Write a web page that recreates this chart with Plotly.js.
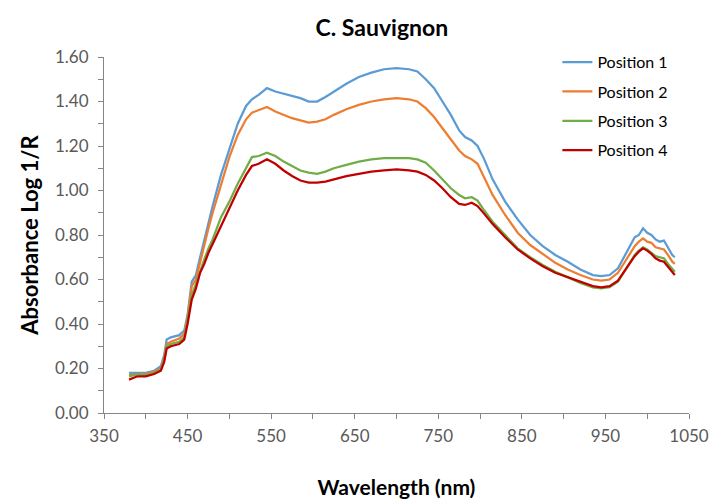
<!DOCTYPE html>
<html>
<head>
<meta charset="utf-8">
<script src="https://cdn.plot.ly/plotly-3.0.1.min.js"></script>
<style>html,body{margin:0;padding:0;background:#fff}#chart{width:711px;height:501px}</style>
</head>
<body>
<div id="chart"></div>
<script>
const wavelength = [380,390,400,410,418,422,425,430,440,446,450,455,460,465,470,475,480,490,500,510,520,527,535,545,555,565,575,585,595,605,615,625,640,655,670,685,700,715,725,735,745,755,765,775,782,790,797,805,815,830,845,860,875,890,905,920,935,945,955,965,975,985,990,995,1000,1005,1010,1015,1020,1025,1030,1033];

const position1 = [0.18,0.18,0.18,0.19,0.21,0.26,0.33,0.34,0.35,0.37,0.44,0.59,0.62,0.70,0.78,0.86,0.93,1.07,1.19,1.30,1.38,1.41,1.43,1.46,1.445,1.435,1.425,1.415,1.40,1.40,1.42,1.445,1.48,1.51,1.53,1.545,1.55,1.545,1.535,1.50,1.46,1.40,1.34,1.27,1.24,1.225,1.20,1.14,1.05,0.95,0.87,0.80,0.75,0.71,0.68,0.645,0.62,0.615,0.62,0.65,0.72,0.79,0.80,0.83,0.81,0.80,0.78,0.77,0.775,0.74,0.71,0.70];

const position2 = [0.17,0.175,0.175,0.185,0.20,0.25,0.31,0.32,0.335,0.355,0.43,0.57,0.60,0.68,0.76,0.83,0.90,1.03,1.15,1.25,1.32,1.35,1.36,1.375,1.355,1.34,1.325,1.315,1.305,1.31,1.32,1.34,1.365,1.385,1.40,1.41,1.415,1.41,1.40,1.37,1.33,1.28,1.23,1.18,1.155,1.14,1.12,1.06,0.98,0.89,0.81,0.755,0.715,0.675,0.645,0.62,0.60,0.595,0.60,0.63,0.69,0.75,0.77,0.785,0.77,0.765,0.745,0.74,0.735,0.71,0.68,0.67];

const position3 = [0.165,0.175,0.17,0.18,0.195,0.24,0.30,0.31,0.32,0.34,0.42,0.53,0.58,0.64,0.69,0.74,0.78,0.88,0.95,1.03,1.10,1.15,1.155,1.17,1.155,1.13,1.11,1.09,1.08,1.075,1.085,1.10,1.115,1.13,1.14,1.145,1.146,1.145,1.14,1.125,1.09,1.05,1.01,0.98,0.965,0.97,0.955,0.91,0.86,0.80,0.74,0.70,0.665,0.635,0.61,0.585,0.565,0.56,0.565,0.59,0.65,0.71,0.73,0.745,0.735,0.72,0.705,0.70,0.695,0.67,0.645,0.635];

const position4 = [0.15,0.165,0.165,0.175,0.19,0.23,0.29,0.30,0.31,0.33,0.40,0.51,0.56,0.63,0.67,0.72,0.76,0.84,0.92,1.00,1.07,1.11,1.12,1.14,1.12,1.09,1.065,1.045,1.035,1.035,1.04,1.05,1.065,1.075,1.085,1.09,1.095,1.09,1.085,1.07,1.045,1.01,0.97,0.94,0.935,0.945,0.93,0.895,0.85,0.79,0.735,0.695,0.66,0.63,0.61,0.59,0.57,0.565,0.57,0.595,0.65,0.705,0.725,0.74,0.73,0.715,0.695,0.685,0.68,0.655,0.63,0.62];

const seriesNames = ['Position 1','Position 2','Position 3','Position 4'];
const seriesValues = [position1, position2, position3, position4];
const seriesColors = ['#5B9BD5','#ED7D31','#70AD47','#C00000'];

const FONT = 'Lato, "Open Sans", sans-serif';

const traces = seriesNames.map((name, i) => ({
  x: wavelength,
  y: seriesValues[i],
  type: 'scatter',
  mode: 'lines',
  name: name,
  legendgroup: 'g' + i,
  line: {color: seriesColors[i], width: 2.25}
}));

const axisCommon = {
  showgrid: false,
  zeroline: false,
  showline: true,
  linecolor: '#868686',
  linewidth: 1,
  ticks: 'outside',
  ticklen: 5,
  tickcolor: '#868686',
  tickfont: {family: FONT, size: 17, color: '#595959'}
};

const layout = {
  width: 711,
  height: 501,
  margin: {l: 104, r: 22, t: 57, b: 88},
  paper_bgcolor: '#ffffff',
  plot_bgcolor: '#ffffff',
  font: {family: FONT, color: '#595959'},
  title: {
    text: '<b>C. Sauvignon</b>',
    font: {family: FONT, size: 23, color: '#000000'},
    x: 0.475, xref: 'paper', xanchor: 'center',
    y: 0.945, yref: 'container', yanchor: 'middle'
  },
  xaxis: Object.assign({}, axisCommon, {
    range: [350, 1050],
    tick0: 350,
    dtick: 100,
    ticklabelstandoff: 3,
    minor: {dtick: 50, tick0: 350, ticks: 'outside', ticklen: 5, tickcolor: '#868686', showgrid: false},
    title: {text: '<b>Wavelength (nm)</b>', font: {family: FONT, size: 21, color: '#000000'}, standoff: 34}
  }),
  yaxis: Object.assign({}, axisCommon, {
    range: [0, 1.6],
    dtick: 0.2,
    tickformat: '.2f',
    ticklabelstandoff: 6,
    minor: {dtick: 0.1, ticks: 'outside', ticklen: 5, tickcolor: '#868686', showgrid: false},
    title: {text: '<b>Absorbance Log 1/R</b>', font: {family: FONT, size: 22, color: '#000000'}, standoff: 10}
  }),
  legend: {
    x: 0.775, xanchor: 'left',
    y: 1.033, yanchor: 'top',
    font: {family: FONT, size: 16, color: '#000000'},
    bgcolor: 'rgba(0,0,0,0)',
    tracegroupgap: 5.5,
    itemwidth: 30
  },
  showlegend: true
};

Plotly.newPlot('chart', traces, layout, {displayModeBar: false, staticPlot: true});
</script>
</body>
</html>
